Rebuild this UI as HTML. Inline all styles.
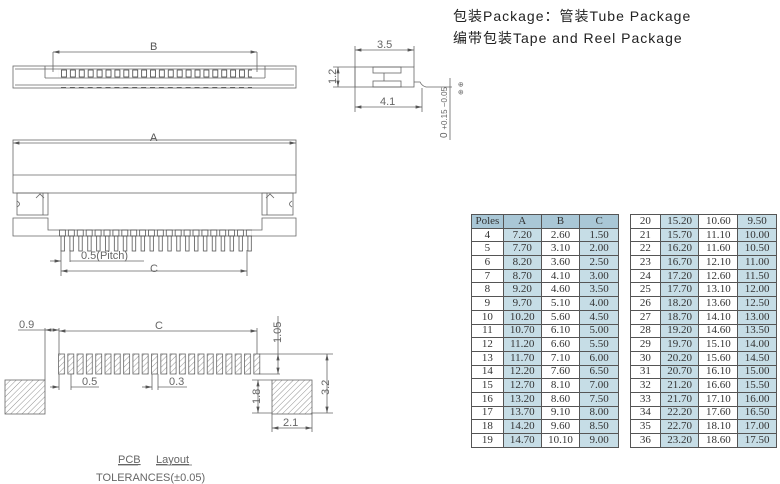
<!DOCTYPE html>
<html><head><meta charset="utf-8"><style>
body{margin:0;width:780px;height:484px;background:#fff;position:relative;overflow:hidden;font-family:"Liberation Sans","Noto Sans CJK SC",sans-serif}
.t{position:absolute;font-size:14px;letter-spacing:1px;color:#222}
table{position:absolute;border-collapse:collapse;font-family:"Liberation Serif","Noto Serif CJK SC",serif;font-size:11px;color:#333}
td{border:1px solid #555;height:12.7px;padding:0;text-align:center;line-height:11px}
.b{background:#c6dde6}
.h td{background:#a9c7d6}
</style></head><body>
<div class="t" style="left:453px;top:6px">包装Package：管装Tube Package</div>
<div class="t" style="left:453px;top:28px">编带包装Tape and Reel Package</div>
<svg width="780" height="484" style="position:absolute;left:0;top:0" font-family="Liberation Sans, sans-serif" fill="none" stroke="#666" stroke-width="0.8">
<defs>
<pattern id="tp" x="61" y="0" width="8.9" height="100" patternUnits="userSpaceOnUse"><rect x="0.5" y="70" width="5" height="7" stroke="#444"/><line x1="0" y1="87.5" x2="5" y2="87.5" stroke="#444"/></pattern>
<pattern id="fp" x="59" y="0" width="8.9" height="300" patternUnits="userSpaceOnUse"><rect x="0.5" y="230" width="6" height="6" stroke="#555"/><rect x="2" y="236" width="3.5" height="15" stroke="#555"/></pattern>
<pattern id="h" width="4" height="4" patternUnits="userSpaceOnUse" patternTransform="rotate(45)"><line x1="0" y1="0" x2="0" y2="4" stroke="#777" stroke-width="0.8"/></pattern>
<pattern id="pp" x="58" y="0" width="9.3" height="500" patternUnits="userSpaceOnUse"><rect x="0.5" y="354" width="6" height="20" fill="url(#h)" stroke="#666"/></pattern>
<marker id="a" markerWidth="8" markerHeight="6" refX="8" refY="3" orient="auto-start-reverse"><path d="M0,1 L8,3 L0,5z" fill="#555" stroke="none"/></marker>
</defs>
<!-- top view -->
<line x1="53" y1="52" x2="257" y2="52" marker-start="url(#a)" marker-end="url(#a)"/>
<line x1="53" y1="52" x2="53" y2="72"/><line x1="257" y1="52" x2="257" y2="72"/>
<text x="150" y="50" fill="#555" stroke="none" font-size="11">B</text>
<rect x="13" y="66" width="283" height="22"/>
<line x1="45" y1="66" x2="45" y2="78"/><line x1="265" y1="66" x2="265" y2="78"/>
<line x1="45" y1="78" x2="265" y2="78"/>
<line x1="15" y1="69" x2="294" y2="69"/><line x1="15" y1="85" x2="294" y2="85"/>
<rect x="58" y="68" width="194" height="22" fill="url(#tp)" stroke="none"/>
<!-- front view -->
<line x1="13" y1="143" x2="296" y2="143" marker-start="url(#a)" marker-end="url(#a)"/>
<text x="150" y="141" fill="#555" stroke="none" font-size="11">A</text>
<rect x="13" y="140" width="283" height="53"/>
<line x1="13" y1="175" x2="296" y2="175"/>
<rect x="17" y="193" width="31" height="22"/><rect x="262" y="193" width="31" height="22"/>
<line x1="43" y1="193" x2="43" y2="215"/><line x1="267" y1="193" x2="267" y2="215"/>
<path d="M17,201 q5,3 0,6 M292,201 q-5,3 0,6 M36,198 l4,-4 l4,4 M266,198 l4,-4 l4,4"/>
<path d="M13,218 H48 V230 H262 V218 H296 V236 H13 Z"/>
<rect x="58" y="228" width="194" height="25" fill="url(#fp)" stroke="none"/>
<line x1="61" y1="250" x2="61" y2="276"/><line x1="70" y1="250" x2="70" y2="262"/><line x1="247" y1="250" x2="247" y2="276"/>
<line x1="50" y1="261" x2="61" y2="261" marker-end="url(#a)"/><line x1="70" y1="261" x2="144" y2="261"/>
<text x="81" y="259" fill="#666" stroke="none" font-size="11">0.5(Pitch)</text>
<line x1="61" y1="271" x2="247" y2="271" marker-start="url(#a)" marker-end="url(#a)"/>
<text x="150" y="272" fill="#666" stroke="none" font-size="11">C</text>
<!-- side view -->
<line x1="355" y1="50" x2="414" y2="50" marker-start="url(#a)" marker-end="url(#a)"/>
<text x="377" y="48" fill="#666" stroke="none" font-size="11">3.5</text>
<line x1="355" y1="46" x2="355" y2="112"/><line x1="414" y1="46" x2="414" y2="67"/>
<rect x="355" y="67" width="59" height="20"/>
<rect x="373" y="67" width="28" height="6"/><rect x="373" y="81" width="28" height="6"/>
<line x1="384" y1="73" x2="384" y2="81"/>
<path d="M414,82 H420 Q422,86 426,87 H452"/>
<line x1="422" y1="88" x2="422" y2="112"/>
<line x1="355" y1="107" x2="422" y2="107" marker-start="url(#a)" marker-end="url(#a)"/>
<text x="380" y="105" fill="#666" stroke="none" font-size="11">4.1</text>
<line x1="333" y1="67" x2="355" y2="67"/><line x1="333" y1="87" x2="355" y2="87"/>
<line x1="338" y1="67" x2="338" y2="87" marker-start="url(#a)" marker-end="url(#a)"/>
<text transform="translate(336,84) rotate(-90)" fill="#666" stroke="none" font-size="11">1.2</text>
<line x1="450" y1="78" x2="450" y2="140"/>
<text transform="translate(447,138) rotate(-90)" fill="#666" stroke="none" font-size="10">0 <tspan font-size="8">+0.15 −0.05</tspan></text>
<text transform="translate(463,95) rotate(-90)" fill="#666" stroke="none" font-size="7">⊕ ⊕</text>
<!-- PCB -->
<rect x="56" y="352" width="205" height="24" fill="url(#pp)" stroke="none"/>
<rect x="5" y="380" width="40" height="34" fill="url(#h)"/>
<rect x="272" y="380" width="40" height="34" fill="url(#h)"/>
<line x1="45" y1="328" x2="45" y2="380"/><line x1="59" y1="328" x2="59" y2="354"/><line x1="257" y1="328" x2="257" y2="354"/>
<line x1="18" y1="330" x2="45" y2="330"/><line x1="45" y1="330" x2="59" y2="330" marker-start="url(#a)" marker-end="url(#a)"/>
<text x="19" y="328" fill="#666" stroke="none" font-size="11">0.9</text>
<line x1="59" y1="331" x2="257" y2="331" marker-start="url(#a)" marker-end="url(#a)"/>
<text x="155" y="329" fill="#666" stroke="none" font-size="11">C</text>
<line x1="59" y1="374" x2="59" y2="390"/><line x1="71" y1="374" x2="71" y2="390"/>
<line x1="50" y1="387" x2="59" y2="387" marker-end="url(#a)"/><line x1="71" y1="387" x2="99" y2="387"/>
<text x="82" y="385" fill="#666" stroke="none" font-size="11">0.5</text>
<line x1="152" y1="374" x2="152" y2="390"/><line x1="158" y1="374" x2="158" y2="390"/>
<line x1="142" y1="387" x2="152" y2="387" marker-end="url(#a)"/><line x1="158" y1="387" x2="187" y2="387"/>
<text x="169" y="385" fill="#666" stroke="none" font-size="11">0.3</text>
<line x1="259" y1="354" x2="333" y2="354"/><line x1="259" y1="374" x2="280" y2="374"/>
<line x1="278" y1="316" x2="278" y2="354"/><line x1="278" y1="354" x2="278" y2="374" marker-start="url(#a)" marker-end="url(#a)"/>
<text transform="translate(281,343) rotate(-90)" fill="#666" stroke="none" font-size="11">1.05</text>
<line x1="312" y1="413" x2="333" y2="413"/><line x1="327" y1="354" x2="327" y2="413" marker-start="url(#a)" marker-end="url(#a)"/>
<text transform="translate(329,395) rotate(-90)" fill="#666" stroke="none" font-size="11">3.2</text>
<line x1="252" y1="380" x2="272" y2="380"/><line x1="252" y1="413" x2="272" y2="413"/>
<line x1="258" y1="380" x2="258" y2="413" marker-start="url(#a)" marker-end="url(#a)"/>
<text transform="translate(260,404) rotate(-90)" fill="#666" stroke="none" font-size="11">1.8</text>
<line x1="272" y1="413" x2="272" y2="432"/><line x1="312" y1="413" x2="312" y2="432"/>
<line x1="272" y1="428" x2="312" y2="428" marker-start="url(#a)" marker-end="url(#a)"/>
<text x="283" y="426" fill="#666" stroke="none" font-size="11">2.1</text>
<text x="118" y="463" fill="#666" stroke="none" font-size="11" text-decoration="underline">PCB</text>
<text x="156" y="463" fill="#666" stroke="none" font-size="11" text-decoration="underline">Layout</text>
<line x1="118" y1="465" x2="138" y2="465"/><line x1="156" y1="465" x2="192" y2="465"/>
<text x="96" y="481" fill="#666" stroke="none" font-size="11">TOLERANCES(±0.05)</text>
</svg>
<table style="left:471px;top:214px;width:148px">
<colgroup><col style="width:32px"><col style="width:38px"><col style="width:39px"><col style="width:39px"></colgroup>
<tr class="h"><td>Poles</td><td>A</td><td>B</td><td>C</td></tr>
<tr><td>4</td><td class="b">7.20</td><td>2.60</td><td class="b">1.50</td></tr>
<tr><td>5</td><td class="b">7.70</td><td>3.10</td><td class="b">2.00</td></tr>
<tr><td>6</td><td class="b">8.20</td><td>3.60</td><td class="b">2.50</td></tr>
<tr><td>7</td><td class="b">8.70</td><td>4.10</td><td class="b">3.00</td></tr>
<tr><td>8</td><td class="b">9.20</td><td>4.60</td><td class="b">3.50</td></tr>
<tr><td>9</td><td class="b">9.70</td><td>5.10</td><td class="b">4.00</td></tr>
<tr><td>10</td><td class="b">10.20</td><td>5.60</td><td class="b">4.50</td></tr>
<tr><td>11</td><td class="b">10.70</td><td>6.10</td><td class="b">5.00</td></tr>
<tr><td>12</td><td class="b">11.20</td><td>6.60</td><td class="b">5.50</td></tr>
<tr><td>13</td><td class="b">11.70</td><td>7.10</td><td class="b">6.00</td></tr>
<tr><td>14</td><td class="b">12.20</td><td>7.60</td><td class="b">6.50</td></tr>
<tr><td>15</td><td class="b">12.70</td><td>8.10</td><td class="b">7.00</td></tr>
<tr><td>16</td><td class="b">13.20</td><td>8.60</td><td class="b">7.50</td></tr>
<tr><td>17</td><td class="b">13.70</td><td>9.10</td><td class="b">8.00</td></tr>
<tr><td>18</td><td class="b">14.20</td><td>9.60</td><td class="b">8.50</td></tr>
<tr><td>19</td><td class="b">14.70</td><td>10.10</td><td class="b">9.00</td></tr>
</table>
<table style="left:630px;top:214px;width:147px">
<colgroup><col style="width:30px"><col style="width:39px"><col style="width:39px"><col style="width:39px"></colgroup>
<tr><td>20</td><td class="b">15.20</td><td>10.60</td><td class="b">9.50</td></tr>
<tr><td>21</td><td class="b">15.70</td><td>11.10</td><td class="b">10.00</td></tr>
<tr><td>22</td><td class="b">16.20</td><td>11.60</td><td class="b">10.50</td></tr>
<tr><td>23</td><td class="b">16.70</td><td>12.10</td><td class="b">11.00</td></tr>
<tr><td>24</td><td class="b">17.20</td><td>12.60</td><td class="b">11.50</td></tr>
<tr><td>25</td><td class="b">17.70</td><td>13.10</td><td class="b">12.00</td></tr>
<tr><td>26</td><td class="b">18.20</td><td>13.60</td><td class="b">12.50</td></tr>
<tr><td>27</td><td class="b">18.70</td><td>14.10</td><td class="b">13.00</td></tr>
<tr><td>28</td><td class="b">19.20</td><td>14.60</td><td class="b">13.50</td></tr>
<tr><td>29</td><td class="b">19.70</td><td>15.10</td><td class="b">14.00</td></tr>
<tr><td>30</td><td class="b">20.20</td><td>15.60</td><td class="b">14.50</td></tr>
<tr><td>31</td><td class="b">20.70</td><td>16.10</td><td class="b">15.00</td></tr>
<tr><td>32</td><td class="b">21.20</td><td>16.60</td><td class="b">15.50</td></tr>
<tr><td>33</td><td class="b">21.70</td><td>17.10</td><td class="b">16.00</td></tr>
<tr><td>34</td><td class="b">22.20</td><td>17.60</td><td class="b">16.50</td></tr>
<tr><td>35</td><td class="b">22.70</td><td>18.10</td><td class="b">17.00</td></tr>
<tr><td>36</td><td class="b">23.20</td><td>18.60</td><td class="b">17.50</td></tr>
</table>
</body></html>
